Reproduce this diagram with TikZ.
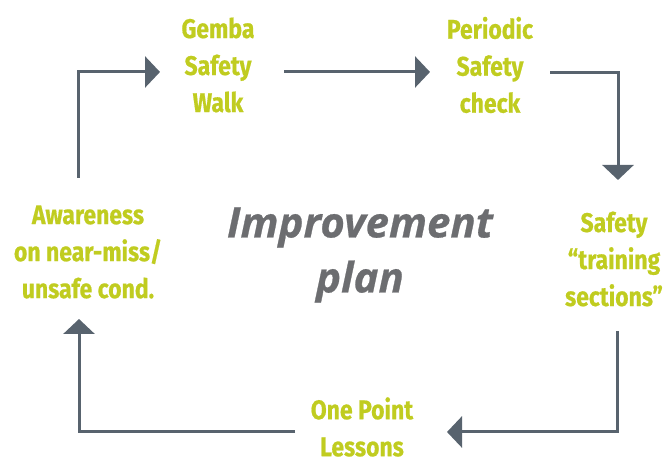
\documentclass[tikz,border=0pt]{standalone}
\usepackage{fontspec}
\usepackage{tikz}
\usetikzlibrary{arrows.meta, positioning, calc}
\newfontfamily\labelfont{Fira Sans}[FakeStretch=0.85, FakeBold=0.6]
\newfontfamily\planfont{Open Sans}[FakeBold=0.6]
\definecolor{stepgreen}{RGB}{192,204,32}
\definecolor{flowgrey}{RGB}{88,99,110}
\definecolor{plangrey}{RGB}{108,109,112}

\begin{document}
\begin{tikzpicture}[x=1pt, y=1pt,
    stepnode/.style={align=center, text=stepgreen, inner sep=0pt,
        font=\labelfont\bfseries\fontsize{27}{37}\selectfont},
    flow/.style={draw=flowgrey, line width=3pt, -{Triangle[length=15pt, width=31pt]}}]
    \useasboundingbox (0,0) rectangle (665,462);
    % steps of the cycle
    \node[stepnode] (gemba) at (218,397) {Gemba\\Safety\\Walk};
    \node[stepnode] (periodic) at (490,397) {Periodic\\Safety\\check};
    \node[stepnode] (training) at (614,203) {Safety\\“training\\sections”};
    \node[stepnode] (opl) at (362,35) {One Point\\Lessons};
    \node[stepnode] (aware) at (88,210) {Awareness\\on near-miss/\\unsafe cond.};
    \node[align=center, text=plangrey, inner sep=0pt,
        font=\planfont\bfseries\itshape\fontsize{42}{55}\selectfont] (plan) at (360,207) {Improvement\\plan};
    % connectors
    \draw[flow] ([shift={(-10,74)}]aware.center) |- ([shift={(-58,-7)}]gemba.center);
    \draw[flow] ([shift={(66,-7)}]gemba.center) -- ([shift={(-60,-7)}]periodic.center);
    \draw[flow] ([shift={(60,-8)}]periodic.center) -| ([shift={(4,79)}]training.center);
    \draw[flow] ([shift={(3,-72)}]training.center) |- ([shift={(85,-5)}]opl.center);
    \draw[flow] ([shift={(-67,-5)}]opl.center) -| ([shift={(-9,-67)}]aware.center);
\end{tikzpicture}
\end{document}
